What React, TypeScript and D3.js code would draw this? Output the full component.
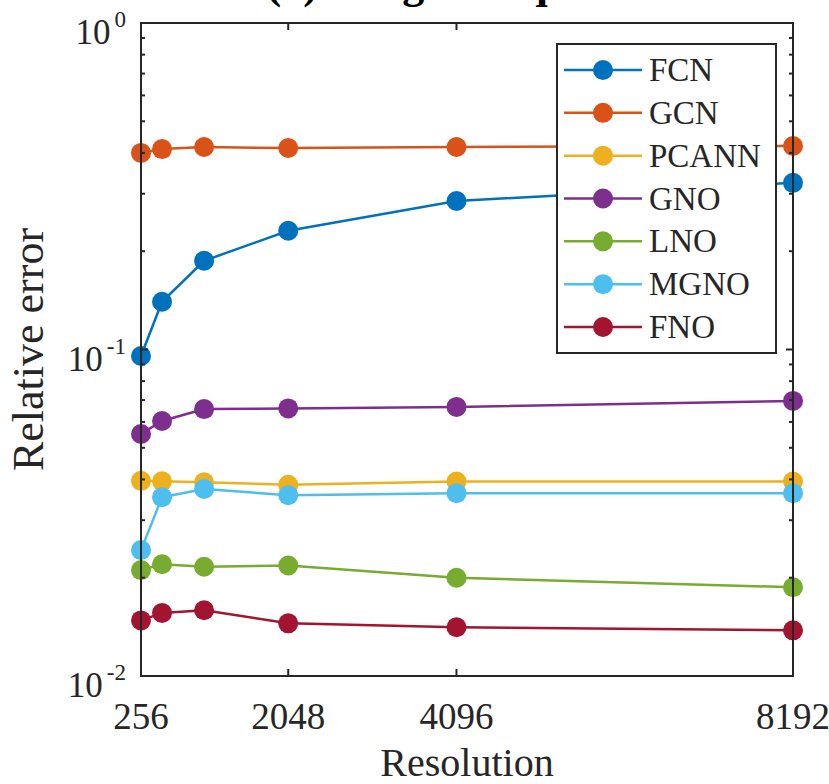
import React, { useEffect, useRef } from 'react'
import * as d3 from 'd3'

const resolutions = [256, 512, 1024, 2048, 4096, 8192]
const xTicks = [256, 2048, 4096, 8192]
const yTicks = [1, 0.1, 0.01]
const yTickExponents = ['0', '-1', '-2']

const seriesNames = ['FCN', 'GCN', 'PCANN', 'GNO', 'LNO', 'MGNO', 'FNO']
const seriesColors = ['#0072BD', '#D95319', '#EDB120', '#7E2F8E', '#77AC30', '#4DBEEE', '#A2142F']

const fcn = [0.0955, 0.14, 0.187, 0.231, 0.285, 0.324]
const gcn = [0.4, 0.411, 0.417, 0.414, 0.417, 0.42]
const pcann = [0.0396, 0.0395, 0.0392, 0.0385, 0.0394, 0.0394]
const gno = [0.0551, 0.0604, 0.0657, 0.066, 0.0667, 0.0696]
const lno = [0.0211, 0.022, 0.0216, 0.0218, 0.02, 0.0187]
const mgno = [0.0243, 0.0353, 0.0374, 0.0358, 0.0363, 0.0363]
const fno = [0.0148, 0.0156, 0.0159, 0.0145, 0.0141, 0.0138]

const seriesValues = [fcn, gcn, pcann, gno, lno, mgno, fno]

const W = 829
const H = 784
const FONT = "'Liberation Serif', 'DejaVu Serif', 'Times New Roman', Times, serif"
const INK = '#262626'

const App = () => {
  const svgRef = useRef<SVGSVGElement | null>(null)

  useEffect(() => {
    if (!svgRef.current) return
    const svg = d3.select(svgRef.current)
    svg.selectAll('*').remove()

    const left = 141
    const right = 793
    const top = 23
    const bottom = 676

    const x = d3.scaleLinear().domain([256, 8192]).range([left, right])
    const y = d3.scaleLog().domain([0.01, 1]).range([bottom, top])

    svg.append('rect').attr('width', W).attr('height', H).attr('fill', '#fff')

    // title, mostly cut off at the top edge (as in the source figure)
    svg.append('text')
      .attr('x', (left + right) / 2)
      .attr('y', -2)
      .attr('text-anchor', 'middle')
      .attr('font-weight', 'bold')
      .attr('font-size', 44)
      .attr('fill', '#000')
      .text("(a) Burgers' equation")

    // lines and markers
    seriesValues.forEach((vals, i) => {
      const pts = resolutions.map((r, j) => [r, vals[j]] as [number, number])
      const line = d3.line<[number, number]>()
        .x(d => x(d[0]))
        .y(d => y(d[1]))
      svg.append('path')
        .datum(pts)
        .attr('d', line)
        .attr('fill', 'none')
        .attr('stroke', seriesColors[i])
        .attr('stroke-width', 2.5)
      svg.append('g')
        .selectAll('circle')
        .data(pts)
        .enter()
        .append('circle')
        .attr('cx', d => x(d[0]))
        .attr('cy', d => y(d[1]))
        .attr('r', 10)
        .attr('fill', seriesColors[i])
    })

    // frame with inward ticks
    const frame = svg.append('g').attr('stroke', INK).attr('stroke-width', 2).attr('fill', 'none')
    frame.append('rect')
      .attr('x', left).attr('y', top)
      .attr('width', right - left).attr('height', bottom - top)

    const majorLen = 7
    const minorLen = 4
    xTicks.forEach(t => {
      frame.append('line').attr('x1', x(t)).attr('x2', x(t)).attr('y1', bottom).attr('y2', bottom - majorLen)
      frame.append('line').attr('x1', x(t)).attr('x2', x(t)).attr('y1', top).attr('y2', top + majorLen)
    })
    const minor: number[] = []
    ;[0.01, 0.1].forEach(dec => {
      for (let k = 2; k <= 9; k++) minor.push(dec * k)
    })
    minor.forEach(t => {
      frame.append('line').attr('x1', left).attr('x2', left + minorLen).attr('y1', y(t)).attr('y2', y(t))
      frame.append('line').attr('x1', right).attr('x2', right - minorLen).attr('y1', y(t)).attr('y2', y(t))
    })
    yTicks.forEach(t => {
      frame.append('line').attr('x1', left).attr('x2', left + majorLen).attr('y1', y(t)).attr('y2', y(t))
      frame.append('line').attr('x1', right).attr('x2', right - majorLen).attr('y1', y(t)).attr('y2', y(t))
    })

    // x tick labels
    svg.append('g')
      .selectAll('text')
      .data(xTicks)
      .enter()
      .append('text')
      .attr('x', d => x(d))
      .attr('y', bottom + 53)
      .attr('text-anchor', 'middle')
      .attr('font-size', 37)
      .attr('fill', INK)
      .text(d => String(d))

    // y tick labels as 10^n
    yTicks.forEach((t, i) => {
      const txt = svg.append('text')
        .attr('x', 126)
        .attr('y', y(t) + 21)
        .attr('text-anchor', 'end')
        .attr('font-size', 35)
        .attr('fill', INK)
      txt.append('tspan').text('10')
      txt.append('tspan')
        .attr('dx', 4)
        .attr('dy', -17)
        .attr('font-size', 23)
        .text(yTickExponents[i])
    })

    // axis labels
    svg.append('text')
      .attr('x', (left + right) / 2)
      .attr('y', 776)
      .attr('text-anchor', 'middle')
      .attr('font-size', 40)
      .attr('fill', INK)
      .text('Resolution')

    svg.append('text')
      .attr('transform', `translate(43,${(top + bottom) / 2}) rotate(-90)`)
      .attr('text-anchor', 'middle')
      .attr('font-size', 44)
      .attr('fill', INK)
      .text('Relative error')

    // legend
    const lg = svg.append('g')
    lg.append('rect')
      .attr('x', 557).attr('y', 44).attr('width', 219).attr('height', 309)
      .attr('fill', '#fff').attr('stroke', INK).attr('stroke-width', 2)
    const rowY = d3.scaleLinear().domain([0, seriesNames.length - 1]).range([70, 327])
    seriesNames.forEach((name, i) => {
      const cy = rowY(i)
      lg.append('line')
        .attr('x1', 564).attr('x2', 642).attr('y1', cy).attr('y2', cy)
        .attr('stroke', seriesColors[i]).attr('stroke-width', 2.5)
      lg.append('circle').attr('cx', 603).attr('cy', cy).attr('r', 10).attr('fill', seriesColors[i])
      lg.append('text')
        .attr('x', 649)
        .attr('y', cy + 11)
        .attr('font-size', 33)
        .attr('fill', INK)
        .text(name)
    })
  }, [])

  return (
    <div style={{ position: 'absolute', left: 0, top: 0 }}>
      <svg ref={svgRef} width={W} height={H} style={{ display: 'block', fontFamily: FONT }}></svg>
    </div>
  )
}

export default App
